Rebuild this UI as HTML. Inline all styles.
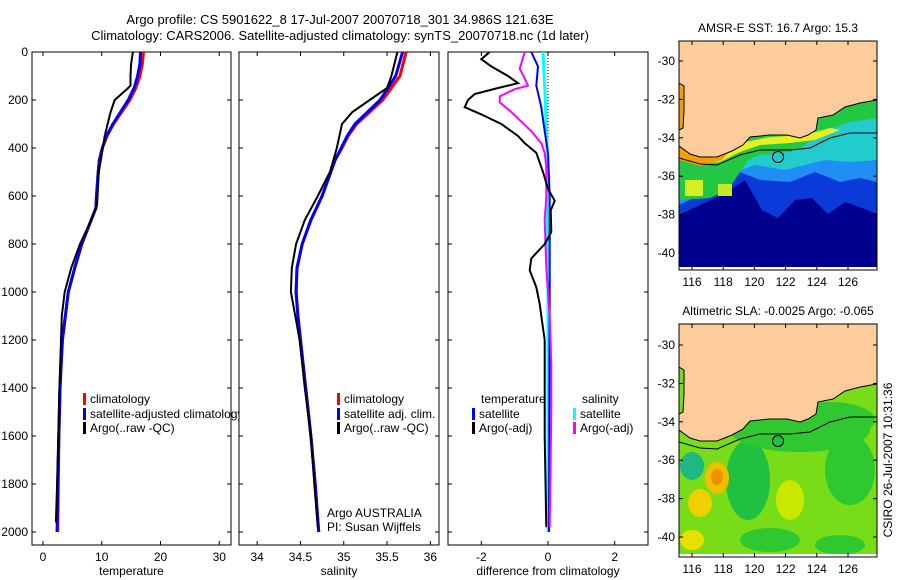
<!DOCTYPE html>
<html><head><meta charset="utf-8"><style>
html,body{margin:0;padding:0;background:#fff;}
svg{display:block;font-family:"Liberation Sans",sans-serif;}
</style></head><body>
<svg id="fig" width="900" height="580" viewBox="0 0 900 580" xmlns="http://www.w3.org/2000/svg">
<rect x="0" y="0" width="900" height="580" fill="#fff"/>
<text x="340" y="24" font-size="13" text-anchor="middle">Argo profile: CS 5901622_8 17-Jul-2007 20070718_301 34.986S 121.63E</text>
<text x="340" y="40" font-size="13" text-anchor="middle">Climatology: CARS2006. Satellite-adjusted climatology: synTS_20070718.nc (1d later)</text>
<g id="panels"></g>
<g>
<defs><clipPath id="c1"><rect x="679" y="41" width="198" height="226"/></clipPath><clipPath id="c2"><rect x="679" y="324" width="198" height="230"/></clipPath></defs>
<text x="778" y="32" font-size="12" text-anchor="middle">AMSR-E SST: 16.7 Argo: 15.3</text>
<g clip-path="url(#c1)">
<rect x="679" y="41" width="198" height="226" fill="#00008f"/>
<polygon fill="#0a3ad8" points="679,215 700,205 722,195 745,180 762,210 778,218 795,200 812,198 828,214 845,202 862,208 877,214 877,95 679,95"/>
<polygon fill="#1f8ff5" points="679,205 700,195 725,185 740,172 760,180 790,182 815,172 840,182 860,178 877,182 877,95 679,95"/>
<polygon fill="#22cccc" points="679,195 715,190 735,172 755,165 785,170 805,165 825,160 850,162 877,160 877,95 679,95"/>
<polygon fill="#22c844" points="679,200 710,198 728,190 740,172 748,160 760,155 790,152 805,145 820,132 850,122 877,118 877,95 679,95"/>
<polygon fill="#22cccc" points="818,142 850,130 877,132 877,150 850,152 825,155"/>
<rect x="685" y="180" width="18" height="16" fill="#d8ee20"/>
<rect x="718" y="184" width="14" height="12" fill="#c8e820"/>
<polygon fill="#e8f020" points="679,158 700,164 720,162 740,152 760,145 790,143 815,140 840,130 830,128 805,135 770,137 745,142 725,152 700,158 679,148"/>
<polygon fill="#f0a000" points="679,146 700,157 716,158 728,153 722,160 700,166 679,160"/>
<polygon fill="#f0a000" points="679,83 684,85 685,100 683,130 679,130"/>
<polygon fill="#fdcc9a" stroke="#000" stroke-width="1" points="679,35 877,35 877,100 860,103 845,107 833,115 818,118 816,130 808,135 800,138 787,135 770,135 750,137 743,145 732,151 727,153 717,157 700,157 690,154 679,146 679,130 683,128 684,110 684,86 679,83"/>
<polyline fill="none" stroke="#000" stroke-width="1" points="679,158 700,164 717,165 740,155 760,150 790,150 810,148 830,138 850,133 877,133"/>
<circle cx="778" cy="157" r="5.5" fill="#22cccc" stroke="#000" stroke-width="1"/>
</g>
<rect x="679" y="41" width="198" height="229" fill="none" stroke="#000" stroke-width="1"/>
</g>
<g>
<text x="778" y="315" font-size="12" text-anchor="middle">Altimetric SLA: -0.0025 Argo: -0.065</text>
<g clip-path="url(#c2)">
<rect x="679" y="324" width="198" height="230" fill="#78dc18"/>
<ellipse cx="748" cy="480" rx="22" ry="40" fill="#22c040"/>
<ellipse cx="800" cy="430" rx="70" ry="22" fill="#30c830"/>
<ellipse cx="850" cy="470" rx="25" ry="35" fill="#30c830"/>
<ellipse cx="770" cy="540" rx="30" ry="12" fill="#30c830"/>
<ellipse cx="840" cy="545" rx="25" ry="10" fill="#30c830"/>
<ellipse cx="830" cy="420" rx="45" ry="18" fill="#30c830"/>
<ellipse cx="692" cy="466" rx="12" ry="14" fill="#20b880"/>
<ellipse cx="717" cy="478" rx="12" ry="16" fill="#f0c000"/>
<ellipse cx="717" cy="477" rx="6" ry="8" fill="#f09000"/>
<ellipse cx="700" cy="503" rx="12" ry="14" fill="#f0d000"/>
<ellipse cx="692" cy="540" rx="12" ry="10" fill="#e8e000"/>
<ellipse cx="790" cy="500" rx="14" ry="20" fill="#c8e800"/>
<g transform="translate(0,284)">
<polygon fill="#fdcc9a" stroke="#000" stroke-width="1" points="679,35 877,35 877,100 860,103 845,107 833,115 818,118 816,130 808,135 800,138 787,135 770,135 750,137 743,145 732,151 727,153 717,157 700,157 690,154 679,146 679,130 683,128 684,110 684,86 679,83"/>
<polyline fill="none" stroke="#000" stroke-width="1" points="679,158 700,164 717,165 740,155 760,150 790,150 810,148 830,138 850,133 877,133"/>
<circle cx="778" cy="157" r="5.5" fill="#22c040" stroke="#000" stroke-width="1"/>
</g>
</g>
<rect x="679" y="324" width="198" height="233" fill="none" stroke="#000" stroke-width="1"/>
</g>
<text transform="translate(892,460) rotate(-90)" font-size="12" text-anchor="middle">CSIRO 26-Jul-2007 10:31:36</text>
<g id="mapaxes"></g>
</svg>
<script>
const mapLons = [116,118,120,122,124,126];
const mapLats = [-30,-32,-34,-36,-38,-40];
const depthTicks = [0,200,400,600,800,1000,1200,1400,1600,1800,2000];
const tempTicks = [0,10,20,30];
const tempDepth = [0,50,100,150,200,250,300,350,400,450,500,600,650,700,800,900,1000,1200,1400,1600,1800,2000];
const tempClim = [17.1,16.9,16.5,15.8,14.8,13.4,12.0,10.9,10.1,9.6,9.4,9.1,9.0,8.2,6.6,5.4,4.3,3.3,2.9,2.7,2.6,2.5];
const tempSat  = [16.6,16.5,16.1,15.5,14.5,13.2,11.9,10.8,10.1,9.6,9.4,9.1,9.0,8.2,6.6,5.4,4.3,3.3,2.9,2.7,2.5,2.4];
const argoDepth = [0,50,100,140,150,200,250,300,350,400,500,640,700,800,900,1000,1100,1400,1800,1960];
const argoTemp = [15.3,15.0,14.9,14.9,14.5,12.2,11.5,11.0,10.5,10.2,9.5,9.2,8.2,6.3,4.8,3.7,3.2,2.8,2.4,2.2];
const salTicks = [34,34.5,35,35.5,36];
const salDepth = [0,100,200,300,350,400,450,500,600,700,800,900,1000,1100,1200,1400,1600,1800,2000];
const salClim = [35.72,35.65,35.45,35.15,35.05,34.98,34.9,34.85,34.75,34.62,34.52,34.46,34.45,34.47,34.5,34.56,34.62,34.67,34.71];
const salSat  = [35.68,35.6,35.42,35.13,35.04,34.97,34.9,34.85,34.75,34.62,34.52,34.46,34.45,34.47,34.5,34.56,34.62,34.67,34.71];
const argoSalDepth = [0,100,150,200,250,300,400,450,500,600,700,800,900,1000,1100,1200,1400,1600,1800,1980];
const argoSal = [35.62,35.55,35.5,35.3,35.1,34.98,34.92,34.88,34.84,34.7,34.55,34.45,34.4,34.39,34.44,34.49,34.55,34.62,34.66,34.7];
const diffTicks = [-2,0,2];
const dTempArgoDepth = [0,30,60,100,130,150,175,200,230,260,300,350,380,420,500,570,620,660,750,800,860,910,980,1050,1100,1200,1600,1980];
const dTempArgo = [-1.75,-2.0,-1.7,-1.2,-0.9,-1.5,-2.2,-2.4,-2.5,-2.0,-1.4,-0.9,-0.7,-0.35,-0.15,0.0,0.2,0.08,0.1,-0.1,-0.5,-0.55,-0.35,-0.25,-0.2,-0.1,-0.1,-0.05];
const dSalArgoDepth = [0,70,110,140,155,185,210,250,290,330,380,420,480,600,700,900,1100,1300,1500,1980];
const dSalArgo = [-0.7,-0.85,-0.7,-0.6,-1.0,-1.45,-1.45,-1.1,-0.8,-0.5,-0.2,-0.1,-0.05,-0.05,-0.1,-0.05,0.05,0.1,0.1,0.05];
const dTempSatDepth = [0,60,140,230,330,420,600,1000,2000];
const dTempSat = [-0.5,-0.3,-0.35,-0.2,-0.1,0.0,0.05,0.05,0.03];
const dSalSatDepth = [0,200,400,1000,2000];
const dSalSat = [-0.15,-0.08,-0.03,0.0,0.0];

const NS='http://www.w3.org/2000/svg';
const root=document.getElementById('panels');
function mk(tag,attrs,parent){const e=document.createElementNS(NS,tag);for(const k in attrs)e.setAttribute(k,attrs[k]);(parent||root).appendChild(e);return e;}
const yTop=52, yPx=0.24, yBot=545;
const yScale=d=>yTop+d*yPx;

function panel(name,x0,x1,xmin,xmax,ticks,xlabel,showY){
  const g=mk('g',{});
  
  
  const xs=v=>x0+(v-xmin)/(xmax-xmin)*(x1-x0);
  const box=mk('rect',{x:x0,y:yTop,width:x1-x0,height:yBot-yTop,fill:'#fff',stroke:'#000','stroke-width':1},g);
  
  
  ticks.forEach(t=>{
    const x=xs(t);
    mk('line',{x1:x,x2:x,y1:yBot,y2:yBot-4,stroke:'#000'},g);
    mk('line',{x1:x,x2:x,y1:yTop,y2:yTop+4,stroke:'#000'},g);
    const tl=mk('text',{x:x,y:yBot+16,'font-size':12,'text-anchor':'middle'},g);
    tl.textContent=String(t);
    
    
  });
  depthTicks.forEach(d=>{
    const y=yScale(d);
    mk('line',{x1:x0,x2:x0+4,y1:y,y2:y,stroke:'#000'},g);
    mk('line',{x1:x1,x2:x1-4,y1:y,y2:y,stroke:'#000'},g);
    if(showY){
      const tl=mk('text',{x:x0-4,y:y+4,'font-size':12,'text-anchor':'end'},g);
      tl.textContent=String(d);
      
      
    }
  });
  const xl=mk('text',{x:(x0+x1)/2,y:yBot+30,'font-size':12,'text-anchor':'middle'},g);
  xl.textContent=xlabel;
  
  
  return {g,xs};
}
function line(p,depths,vals,color,w,nm){
  const pts=depths.map((d,i)=>p.xs(vals[i]).toFixed(1)+','+yScale(d).toFixed(1)).join(' ');
  const l=mk('polyline',{points:pts,fill:'none',stroke:color,'stroke-width':w},p.g);
  
  
}
function legend(p,x,y,label,color,nm){
  const b=mk('rect',{x:x,y:y-10,width:3,height:12,fill:color},p.g);
  
  
  const t=mk('text',{x:x+7,y:y,'font-size':12},p.g);
  t.textContent=label;
  
  
}
function text(p,x,y,s,nm,anchor){
  const t=mk('text',{x:x,y:y,'font-size':12,'text-anchor':anchor||'start'},p.g);
  t.textContent=s;
  
  
}

const pT=panel('temperature',32,231,-1.87,32,tempTicks,'temperature',true);
line(pT,tempDepth,tempClim,'#ff0000',3,'temp-climatology-line');
line(pT,tempDepth,tempSat,'#0000ff',3,'temp-satellite-line');
line(pT,argoDepth,argoTemp,'#000000',2,'temp-argo-line');
legend(pT,83,403,'climatology','#ff0000','legend-climatology');
legend(pT,83,418,'satellite-adjusted climatology','#0000ff','legend-satellite-adjusted');
legend(pT,83,432,'Argo(..raw -QC)','#000000','legend-argo');

const pS=panel('salinity',239,439,33.79,36.1,salTicks,'salinity',false);
line(pS,salDepth,salClim,'#ff0000',3,'sal-climatology-line');
line(pS,salDepth,salSat,'#0000ff',3,'sal-satellite-line');
line(pS,argoSalDepth,argoSal,'#000000',2,'sal-argo-line');
legend(pS,337,403,'climatology','#ff0000','sal-legend-climatology');
legend(pS,337,418,'satellite adj. clim.','#0000ff','sal-legend-satellite');
legend(pS,337,432,'Argo(..raw -QC)','#000000','sal-legend-argo');
text(pS,327,517,'Argo AUSTRALIA','argo-australia-label');
text(pS,327,531,'PI: Susan Wijffels','pi-label');

const pD=panel('difference',448,648,-3,3,diffTicks,'difference from climatology',false);
const dz=mk('line',{x1:pD.xs(0),x2:pD.xs(0),y1:yTop,y2:yScale(480),stroke:'#000','stroke-dasharray':'1,2'},pD.g);


line(pD,dSalSatDepth,dSalSat,'#00ffff',3,'diff-sal-satellite-line');
line(pD,dTempSatDepth,dTempSat,'#0000ff',2,'diff-temp-satellite-line');
line(pD,dSalArgoDepth,dSalArgo,'#ff00ff',2,'diff-sal-argo-line');
line(pD,dTempArgoDepth,dTempArgo,'#000000',2,'diff-temp-argo-line');
text(pD,481,403,'temperature','diff-legend-temperature-header');
text(pD,582,403,'salinity','diff-legend-salinity-header');
legend(pD,472,418,'satellite','#0000ff','diff-legend-temp-satellite');
legend(pD,472,432,'Argo(-adj)','#000000','diff-legend-temp-argo');
legend(pD,573,418,'satellite','#00ffff','diff-legend-sal-satellite');
legend(pD,573,432,'Argo(-adj)','#ff00ff','diff-legend-sal-argo');

const ma=document.getElementById('mapaxes');
[[41,270,61],[324,557,345]].forEach((m,mi)=>{
  const [top,bot,y30]=m;
  mapLons.forEach(lon=>{
    const x=692+(lon-116)*15.6;
    mk('line',{x1:x,x2:x,y1:bot,y2:bot-4,stroke:'#000'},ma);
    mk('line',{x1:x,x2:x,y1:top,y2:top+4,stroke:'#000'},ma);
    const t=mk('text',{x:x,y:bot+16,'font-size':12,'text-anchor':'middle'},ma);
    t.textContent=String(lon);
    
    
  });
  mapLats.forEach(lat=>{
    const y=y30+(-30-lat)*19.2;
    mk('line',{x1:679,x2:683,y1:y,y2:y,stroke:'#000'},ma);
    mk('line',{x1:877,x2:873,y1:y,y2:y,stroke:'#000'},ma);
    const t=mk('text',{x:675,y:y+4,'font-size':12,'text-anchor':'end'},ma);
    t.textContent=String(lat);
    
    
  });
});
</script>
</body></html>
